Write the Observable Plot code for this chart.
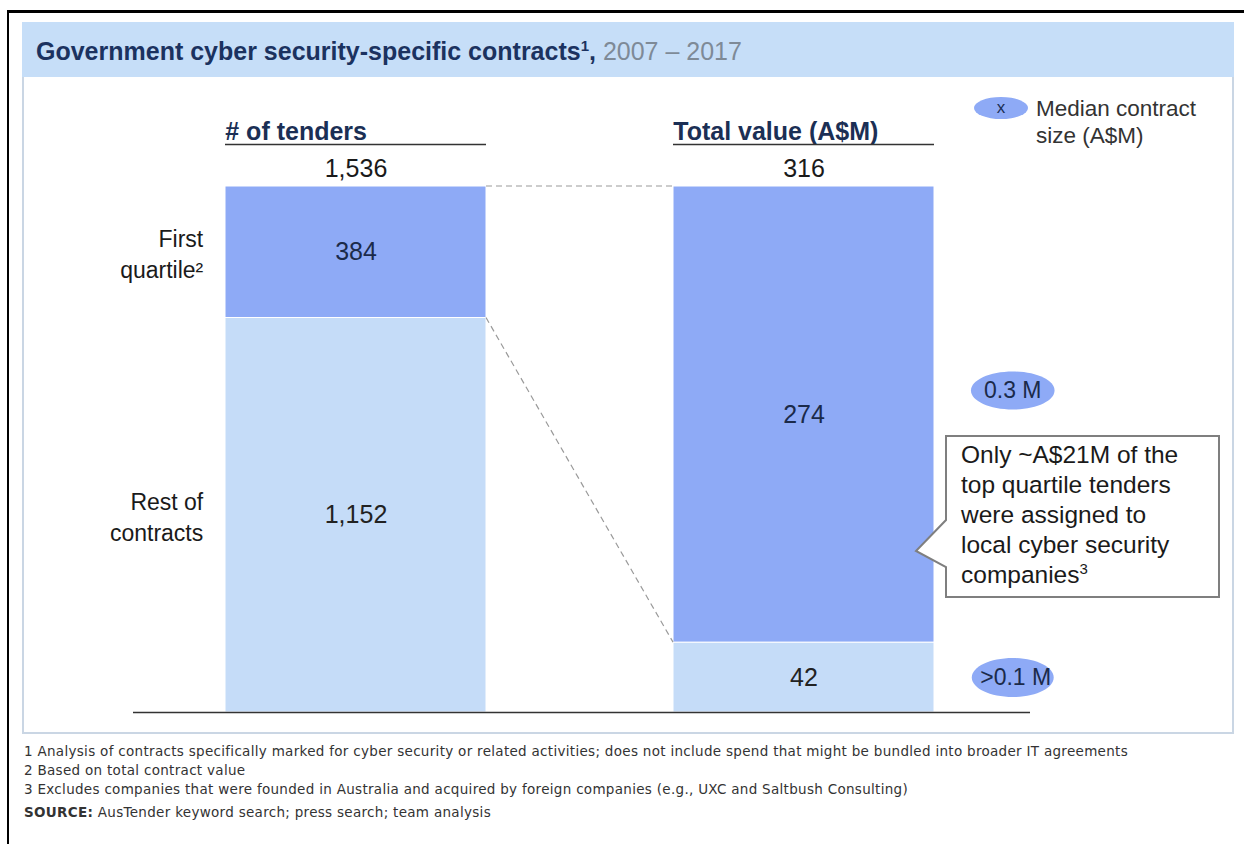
<!DOCTYPE html>
<html>
<head>
<meta charset="utf-8">
<script src="https://cdn.jsdelivr.net/npm/d3@7"></script>
<script src="https://cdn.jsdelivr.net/npm/@observablehq/plot@0.6"></script>
<style>
  html, body { margin: 0; padding: 0; background: #fff; }
  #page { position: relative; width: 1244px; height: 844px; overflow: hidden; font-family: "Liberation Sans", Arial, sans-serif; }
  .abs { position: absolute; }
  #outer { left: 7px; top: 10px; width: 1300px; height: 900px; border-left: 2px solid #000; border-top: 3px solid #000; }
  #frame { left: 22px; top: 22px; width: 1208px; height: 710px; border: 2px solid #cad6e4; border-top: none; background: #fff; }
  #band { left: 22px; top: 22px; width: 1212px; height: 55px; background: #c6def8; }
  #title { left: 36px; top: 37px; font-size: 25px; font-weight: bold; color: #1b3260; white-space: nowrap; line-height: normal; letter-spacing: 0px; }
  #title sup { font-size: 15px; vertical-align: 9px; line-height: 0; }
  #title .yr { color: #7e8a97; font-weight: normal; }
  #legendDot { left: 974px; top: 97px; width: 54px; height: 22px; border-radius: 50%; background: #8eaaf6; color: #1b2f55; font-size: 17px; text-align: center; line-height: 22px; }
  #legendTxt { left: 1036px; top: 95px; font-size: 22.5px; line-height: 27px; color: #333; }
  #callout { left: 961px; top: 440px; font-size: 24.5px; line-height: 30px; color: #1a1a1a; white-space: nowrap; }
  #callout sup { font-size: 15px; vertical-align: 9px; line-height: 0; }
  #notes { left: 24px; top: 742px; font-family: "DejaVu Sans", sans-serif; font-size: 13.5px; color: #333; letter-spacing: 0.3px; }
  #notes div { line-height: 19px; white-space: nowrap; }
  #notes .src { margin-top: 4px; }
  #chart { left: 0; top: 78px; }
</style>
</head>
<body>
<div id="page">
  <div class="abs" id="outer"></div>
  <div class="abs" id="frame"></div>
  <div class="abs" id="band"></div>
  <div class="abs" id="title">Government cyber security-specific contracts<sup>1</sup>, <span class="yr">2007 – 2017</span></div>
  <div class="abs" id="chart"></div>
  <div class="abs" id="legendDot">x</div>
  <div class="abs" id="legendTxt">Median contract<br>size (A$M)</div>
  <svg class="abs" style="left:0;top:0" width="1244" height="844">
    <path d="M946,436 H1219 V597 H946 V567 L916,551 L946,520 Z" fill="#fff" stroke="#7f7f7f" stroke-width="2"/>
  </svg>
  <div class="abs" id="callout">Only ~A$21M of the<br>top quartile tenders<br>were assigned to<br>local cyber security<br>companies<sup>3</sup></div>
  <div class="abs" id="notes">
    <div>1 Analysis of contracts specifically marked for cyber security or related activities; does not include spend that might be bundled into broader IT agreements</div>
    <div>2 Based on total contract value</div>
    <div>3 Excludes companies that were founded in Australia and acquired by foreign companies (e.g., UXC and Saltbush Consulting)</div>
    <div class="src"><b>SOURCE:</b> AusTender keyword search; press search; team analysis</div>
  </div>
</div>
<script>
// ---- data ----
const metrics = ["# of tenders", "Total value (A$M)"];
const segments = ["Rest of contracts", "First quartile"];          // bottom to top
const segmentLabels = ["Rest of\ncontracts", "First\nquartile²"];
const tenders = [1152, 384];
const valueAM = [42, 274];
const totals = [1536, 316];
const medians = [">0.1 M", "0.3 M"];

const seriesByMetric = [tenders, valueAM];
const rows = [];
metrics.forEach((m, i) => {
  let acc = 0;
  segments.forEach((s, j) => {
    const v = seriesByMetric[i][j];
    const y1 = acc / totals[i];
    acc += v;
    const y2 = acc / totals[i];
    rows.push({metric: m, segment: s, value: v, y1, y2, mid: (y1 + y2) / 2, label: segmentLabels[j], median: medians[j]});
  });
});
const totalRows = metrics.map((m, i) => ({metric: m, total: totals[i]}));

const W = 1244, H = 657;
const xRange = [225, 935];
const padIn = 0.417;
const bw = d3.scaleBand().domain(metrics).range(xRange).paddingInner(padIn).paddingOuter(0).bandwidth();
const fmt = d3.format(",");
const FONT = "Liberation Sans, Arial, sans-serif";

const ellipse = (ratio) => ({
  draw(ctx, size) {
    const ry = Math.sqrt(size / Math.PI), rx = ry * ratio, k = 0.5522847;
    ctx.moveTo(rx, 0);
    ctx.bezierCurveTo(rx, ry * k, rx * k, ry, 0, ry);
    ctx.bezierCurveTo(-rx * k, ry, -rx, ry * k, -rx, 0);
    ctx.bezierCurveTo(-rx, -ry * k, -rx * k, -ry, 0, -ry);
    ctx.bezierCurveTo(rx * k, -ry, rx, -ry * k, rx, 0);
    ctx.closePath();
  }
});

const valRows = rows.filter(d => d.metric === metrics[1]);
const medDx = bw / 2 + 78;

const plot = Plot.plot({
  width: W, height: H,
  marginTop: 108, marginBottom: 23, marginLeft: 133, marginRight: 214,
  style: {fontFamily: FONT, background: "transparent", overflow: "visible"},
  x: {type: "band", domain: metrics, range: xRange, paddingInner: padIn, paddingOuter: 0, axis: null},
  y: {domain: [0, 1], axis: null},
  color: {domain: segments, range: ["#c5dcf8", "#8eaaf6"]},
  marks: [
    Plot.barY(rows, {x: "metric", y1: "y1", y2: "y2", fill: "segment", stroke: "#fff", strokeWidth: 1}),
    Plot.text(rows, {x: "metric", y: "mid", text: d => fmt(d.value), fontSize: 25, fill: d => d.segment === segments[1] ? "#1b2a4a" : "#222"}),
    Plot.text(totalRows, {x: "metric", y: () => 1, text: d => fmt(d.total), dy: -18, fontSize: 25, fill: "#1a1a1a"}),
    Plot.text(metrics, {x: d => d, y: () => 1, text: d => d, dx: -bw / 2, dy: -55, textAnchor: "start", fontSize: 25, fontWeight: "bold", fill: "#1b2f55"}),
    Plot.tickY(metrics, {x: d => d, y: () => 1, dy: -42, stroke: "#333", strokeWidth: 1.5}),
    Plot.text(rows.filter(d => d.metric === metrics[0]), {x: "metric", y: "mid", text: "label", dx: -bw / 2 - 22, textAnchor: "end", lineHeight: 1.35, fontSize: 23, fill: "#1a1a1a"}),
    Plot.ruleY([0], {stroke: "#333", strokeWidth: 1.5}),
    Plot.dot(valRows.filter(d => d.segment === segments[0]), {x: "metric", y: "mid", dx: medDx, r: 19.5, symbol: ellipse(2.1), fill: "#8eaaf6", stroke: "none"}),
    Plot.dot(valRows.filter(d => d.segment === segments[1]), {x: "metric", y: "mid", dx: medDx, dy: -24, r: 19, symbol: ellipse(2.2), fill: "#8eaaf6", stroke: "none"}),
    Plot.text(valRows.filter(d => d.segment === segments[0]), {x: "metric", y: "mid", dx: medDx + 3, text: "median", fontSize: 23, fill: "#1b2a4a"}),
    Plot.text(valRows.filter(d => d.segment === segments[1]), {x: "metric", y: "mid", dx: medDx, dy: -24, text: "median", fontSize: 23, fill: "#1b2a4a"})
  ]
});

// dashed connectors drawn through the plot's own scales
const sx = plot.scale("x"), sy = plot.scale("y");
const left = rows.filter(d => d.metric === metrics[0]);
const right = rows.filter(d => d.metric === metrics[1]);
const xa = sx.apply(metrics[0]) + sx.bandwidth, xb = sx.apply(metrics[1]);
const links = [
  [sy.apply(left[1].y2), sy.apply(right[1].y2)],
  [sy.apply(left[1].y1), sy.apply(right[1].y1)]
];
d3.select(plot).append("g")
  .selectAll("line").data(links).join("line")
  .attr("x1", xa).attr("x2", xb)
  .attr("y1", d => d[0]).attr("y2", d => d[1])
  .attr("stroke", "#9a9a9a").attr("stroke-width", 1.2).attr("stroke-dasharray", "6,4");

document.getElementById("chart").appendChild(plot);
</script>
</body>
</html>
